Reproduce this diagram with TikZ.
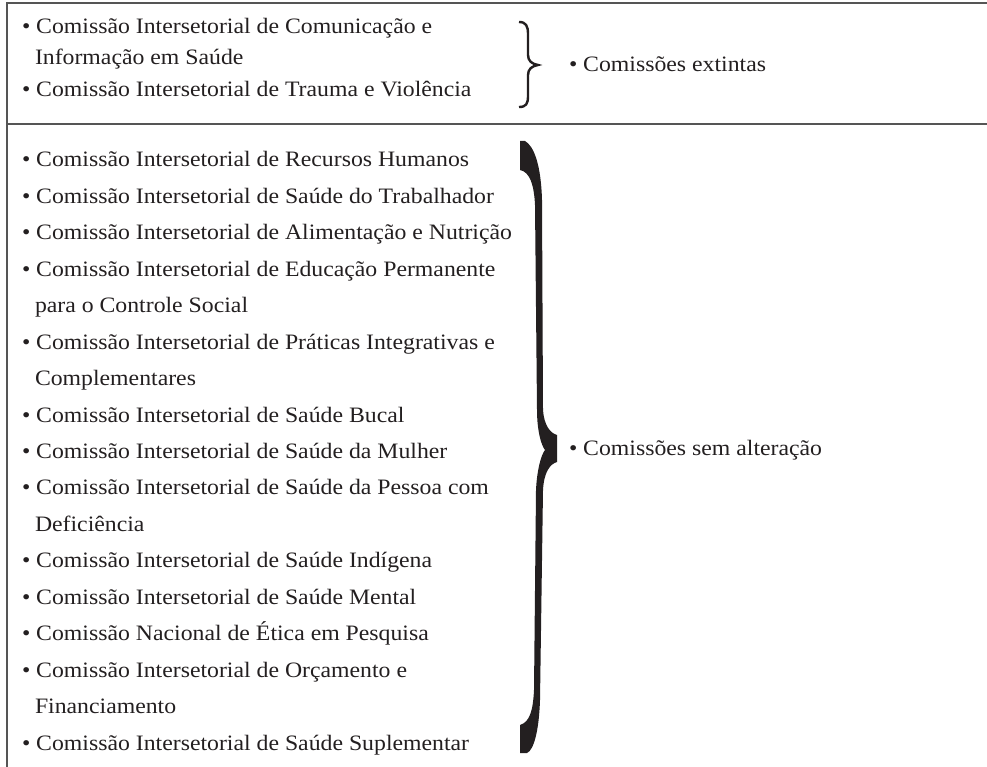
\documentclass[tikz,border=0pt]{standalone}
\usepackage{fontspec}
\setmainfont{Liberation Serif}[FakeStretch=1.08]
\definecolor{ink}{HTML}{231F20}
\definecolor{rule}{HTML}{555555}
\begin{document}
\begin{tikzpicture}[x=1pt,y=-1pt,
  txt/.style={anchor=base west,inner sep=0pt,outer sep=0pt,text=ink,font=\fontsize{22}{26}\selectfont},
  border/.style={draw=rule,line width=1.8pt}]
\useasboundingbox (0,0) rectangle (987,767);
% frame
\draw[border] (7,767) -- (7,3) -- (987,3);
\draw[border] (7,124) -- (987,124);
% top texts
\node[txt] (t1) at (22,34) {\textbullet\ Comissão Intersetorial de Comunicação e};
\node[txt] (t2) at (35,65) {Informação em Saúde};
\node[txt] (t3) at (22,97) {\textbullet\ Comissão Intersetorial de Trauma e Violência};
\node[txt] (ext) at (569,72) {\textbullet\ Comissões extintas};
% thin brace
\draw[ink,line width=2.4pt]
  (519,22) .. controls (526,22) and (528,26) .. (528,34) -- (528,55)
  .. controls (528,61) and (532,64) .. (538,65)
  .. controls (532,66) and (528,69) .. (528,75) -- (528,96)
  .. controls (528,104) and (526,107) .. (519,107);
% bottom texts
\node[txt] (b0)  at (22,{167+36.44*0})  {\textbullet\ Comissão Intersetorial de Recursos Humanos};
\node[txt] (b1)  at (22,{167+36.44*1})  {\textbullet\ Comissão Intersetorial de Saúde do Trabalhador};
\node[txt] (b2)  at (22,{167+36.44*2})  {\textbullet\ Comissão Intersetorial de Alimentação e Nutrição};
\node[txt] (b3)  at (22,{167+36.44*3})  {\textbullet\ Comissão Intersetorial de Educação Permanente};
\node[txt] (b4)  at (35,{167+36.44*4})  {para o Controle Social};
\node[txt] (b5)  at (22,{167+36.44*5})  {\textbullet\ Comissão Intersetorial de Práticas Integrativas e};
\node[txt] (b6)  at (35,{167+36.44*6})  {Complementares};
\node[txt] (b7)  at (22,{167+36.44*7})  {\textbullet\ Comissão Intersetorial de Saúde Bucal};
\node[txt] (b8)  at (22,{167+36.44*8})  {\textbullet\ Comissão Intersetorial de Saúde da Mulher};
\node[txt] (b9)  at (22,{167+36.44*9})  {\textbullet\ Comissão Intersetorial de Saúde da Pessoa com};
\node[txt] (b10) at (35,{167+36.44*10}) {Deficiência};
\node[txt] (b11) at (22,{167+36.44*11}) {\textbullet\ Comissão Intersetorial de Saúde Indígena};
\node[txt] (b12) at (22,{167+36.44*12}) {\textbullet\ Comissão Intersetorial de Saúde Mental};
\node[txt] (b13) at (22,{167+36.44*13}) {\textbullet\ Comissão Nacional de Ética em Pesquisa};
\node[txt] (b14) at (22,{167+36.44*14}) {\textbullet\ Comissão Intersetorial de Orçamento e};
\node[txt] (b15) at (35,{167+36.44*15}) {Financiamento};
\node[txt] (b16) at (22,{167+36.44*16}) {\textbullet\ Comissão Intersetorial de Saúde Suplementar};
\node[txt] (sem) at (569,455) {\textbullet\ Comissões sem alteração};
% thick brace
\fill[ink]
  (520,141) -- (525,141) .. controls (534,146) and (541,165) .. (542,200)
  -- (543,410) .. controls (544,425) and (550,433) .. (557,435)
  -- (557,462) .. controls (550,464) and (544,472) .. (543,490)
  -- (540,700) .. controls (539,730) and (534,750) .. (527,753)
  -- (520,753) -- (520,725) .. controls (530,722) and (533,710) .. (534,690)
  -- (536,490) .. controls (537,470) and (541,455) .. (545,450)
  .. controls (541,445) and (537,430) .. (537,410)
  -- (535,205) .. controls (534,185) and (530,172) .. (520,170) -- cycle;
\end{tikzpicture}
\end{document}
